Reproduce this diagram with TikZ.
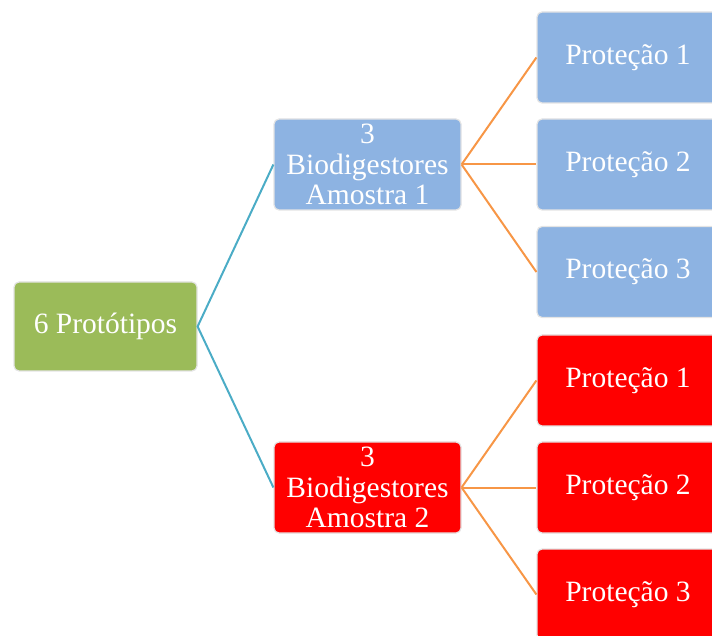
\documentclass[tikz,border=0pt]{standalone}
\usepackage{fontspec}
\setmainfont{Liberation Serif}
\definecolor{cgreen}{HTML}{9BBB59}
\definecolor{cblue}{HTML}{8DB3E2}
\definecolor{cred}{HTML}{FF0000}
\definecolor{cteal}{HTML}{4BACC6}
\definecolor{corange}{HTML}{F79646}
\definecolor{cedge}{HTML}{E4E4E4}
\tikzset{
  x=1pt,y=1pt,
  box/.style={rounded corners=5pt, draw=cedge, line width=1.2pt, text=white,
    font=\fontsize{29.5}{30.5}\selectfont, align=center, inner sep=0pt, anchor=center},
  rootbox/.style={box, fill=cgreen, minimum width=183pt, minimum height=89pt},
  midblue/.style={box, fill=cblue, minimum width=187pt, minimum height=91pt},
  midred/.style={box, fill=cred, minimum width=187pt, minimum height=91pt},
  leafblue/.style={box, fill=cblue, minimum width=182pt, minimum height=91pt},
  leafred/.style={box, fill=cred, minimum width=182pt, minimum height=91pt},
  tealline/.style={draw=cteal, line width=2pt},
  orangeline/.style={draw=corange, line width=2pt},
}
\begin{document}
\begin{tikzpicture}
\useasboundingbox (0,0) rectangle (712,635);
\clip (0,0) rectangle (712,635);
% root
\node[rootbox] (root) at (105.5,308.5) {6 Protótipos};
% middle
\node[midblue] (m1) at (367.5,470.5) {3\\Biodigestores\\Amostra 1};
\node[midred] (m2) at (367.5,147.5) {3\\Biodigestores\\Amostra 2};
% leaves
\node[leafblue] (l1) at (628,577.5) {Proteção 1};
\node[leafblue] (l2) at (628,470.5) {Proteção 2};
\node[leafblue] (l3) at (628,363) {Proteção 3};
\node[leafred] (l4) at (628,254.5) {Proteção 1};
\node[leafred] (l5) at (628,147.5) {Proteção 2};
\node[leafred] (l6) at (628,40.5) {Proteção 3};
% connectors
\draw[tealline] (m1.west) -- (root.east) -- (m2.west);
\draw[orangeline] (m1.east) -- (l1.west);
\draw[orangeline] (m1.east) -- (l2.west);
\draw[orangeline] (m1.east) -- (l3.west);
\draw[orangeline] (m2.east) -- (l4.west);
\draw[orangeline] (m2.east) -- (l5.west);
\draw[orangeline] (m2.east) -- (l6.west);
\end{tikzpicture}
\end{document}
